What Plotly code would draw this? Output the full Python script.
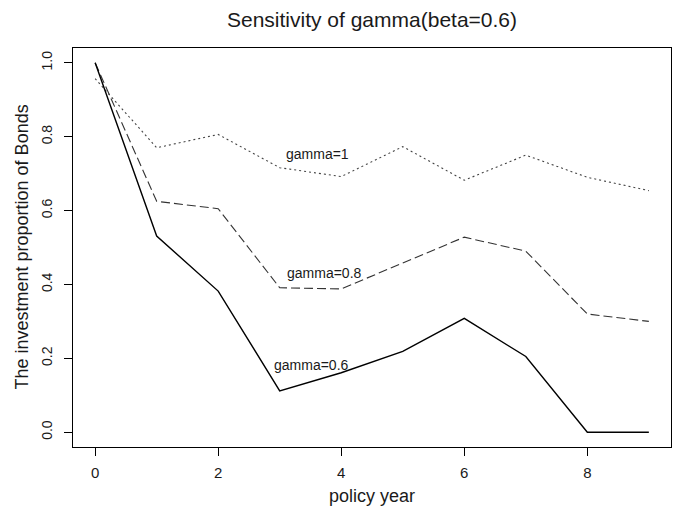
import plotly.graph_objects as go

years = [0, 1, 2, 3, 4, 5, 6, 7, 8, 9]
gamma_1 = [0.957, 0.770, 0.806, 0.716, 0.692, 0.773, 0.682, 0.750, 0.690, 0.654]
gamma_08 = [1.0, 0.625, 0.605, 0.391, 0.388, 0.459, 0.528, 0.490, 0.320, 0.300]
gamma_06 = [1.0, 0.531, 0.382, 0.112, 0.161, 0.219, 0.308, 0.205, 0.0, 0.0]

labels = ["gamma=1", "gamma=0.8", "gamma=0.6"]
label_x = [3.62, 3.72, 3.52]
label_y = [0.752, 0.431, 0.183]

x_ticks = [0, 2, 4, 6, 8]
y_ticks = [0.0, 0.2, 0.4, 0.6, 0.8, 1.0]
y_tick_text = ["0.0", "0.2", "0.4", "0.6", "0.8", "1.0"]

FONT = "Liberation Sans, Arial, Helvetica, sans-serif"
TXT = "#1a1a1a"

W, H = 678, 511
L, R, T, B = 73, 7, 48, 64
PW = W - L - R
PH = H - T - B

fig = go.Figure()
fig.add_trace(go.Scatter(x=years, y=gamma_1, mode="lines",
                         line=dict(color="#444", width=1.1, dash="2px,3px"), name="gamma=1"))
fig.add_trace(go.Scatter(x=years, y=gamma_08, mode="lines",
                         line=dict(color="#333", width=1.1, dash="9px,4px"), name="gamma=0.8"))
fig.add_trace(go.Scatter(x=years, y=gamma_06, mode="lines",
                         line=dict(color="black", width=1.4), name="gamma=0.6"))

for t, xx, yy in zip(labels, label_x, label_y):
    fig.add_annotation(x=xx, y=yy, text=t, showarrow=False,
                       font=dict(family=FONT, size=14, color=TXT))

# axis titles
fig.add_annotation(xref="paper", yref="paper", x=0.5, y=-(496 - (H - B)) / PH,
                   text="policy year", showarrow=False, yanchor="middle",
                   font=dict(family=FONT, size=18, color=TXT))
fig.add_annotation(xref="paper", yref="paper", x=-(L - 21) / PW, y=0.5,
                   text="The investment proportion of Bonds", showarrow=False,
                   textangle=-90, xanchor="center",
                   font=dict(family=FONT, size=18, color=TXT))

fig.update_layout(
    width=W, height=H,
    margin=dict(l=L, r=R, t=T, b=B),
    paper_bgcolor="white", plot_bgcolor="white",
    showlegend=False,
    font=dict(family=FONT, size=14, color=TXT),
    title=dict(text="Sensitivity of gamma(beta=0.6)", xref="paper", x=0.5, xanchor="center",
               yref="container", y=1 - 20 / H, yanchor="middle",
               font=dict(family=FONT, size=21, color=TXT)),
)
fig.update_xaxes(
    range=[-0.36, 9.36], tickvals=x_ticks, ticks="outside", ticklen=8, tickcolor="black",
    showline=True, linecolor="black", linewidth=1, mirror=True, showgrid=False, zeroline=False,
    tickfont=dict(family=FONT, size=15, color=TXT), ticklabelstandoff=4,
)
fig.update_yaxes(
    range=[-0.04, 1.04], tickvals=y_ticks, ticktext=y_tick_text, tickangle=-90,
    ticks="outside", ticklen=8, tickcolor="black",
    showline=True, linecolor="black", linewidth=1, mirror=True, showgrid=False, zeroline=False,
    tickfont=dict(family=FONT, size=14, color=TXT), ticklabelstandoff=6,
)

fig.write_html("out.html", config={"displayModeBar": False},
               post_script="document.body.style.margin='0';document.body.style.overflow='hidden';")
